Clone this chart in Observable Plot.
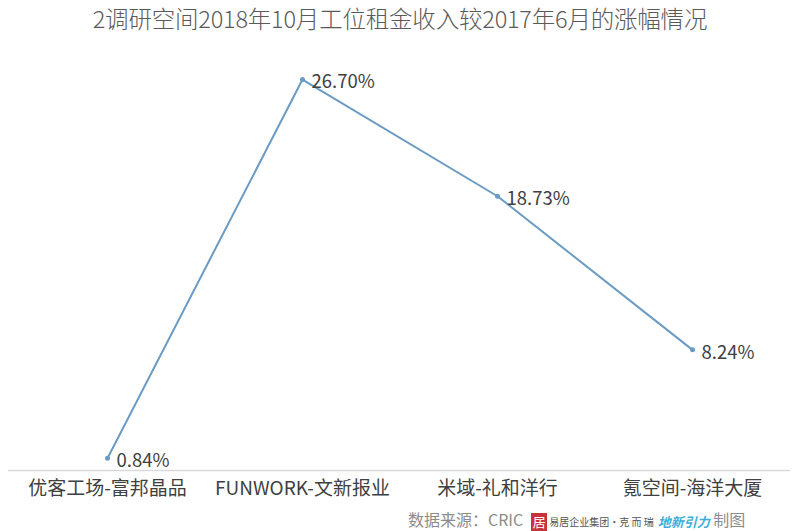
<!DOCTYPE html>
<html><head><meta charset="utf-8">
<script src="https://cdn.jsdelivr.net/npm/d3@7"></script>
<script src="https://cdn.jsdelivr.net/npm/@observablehq/plot@0.6"></script>
<style>
body{margin:0;background:#fff;font-family:"Noto Sans CJK SC","Noto Sans",sans-serif;}
#title{height:40px;line-height:36px;text-align:center;font-size:23.5px;color:#5a5a5a;font-weight:300;letter-spacing:-0.2px;}
#cap{height:21px;line-height:19px;font-size:16px;color:#8c8c8c;padding-left:408px;white-space:nowrap;}
.logo{display:inline-block;vertical-align:middle;}
</style></head><body>
<div id="title">2调研空间2018年10月工位租金收入较2017年6月的涨幅情况</div>
<div id="chart"></div>
<div id="cap">数据来源：CRIC<span class="logo" style="background:#c8323a;color:#fff;font-size:13px;line-height:18px;width:16px;text-align:center;margin-left:8px;">居</span><span class="logo" style="font-size:10px;color:#555;margin-left:2px;">易居企业集团·克 而 瑞</span><span class="logo" style="font-size:13px;color:#3ab0d8;font-style:italic;font-weight:bold;margin-left:4px;">地新引力</span> 制图</div>
<script>
const categories = ["优客工场-富邦晶品", "FUNWORK-文新报业", "米域-礼和洋行", "氪空间-海洋大厦"];
const growth = [0.84, 26.70, 18.73, 8.24];
const labels = ["0.84%", "26.70%", "18.73%", "8.24%"];

const data = categories.map((c, i) => ({cat: c, v: growth[i], label: labels[i]}));

const chart = Plot.plot({
  width: 800,
  height: 470,
  marginLeft: 8,
  marginRight: 10,
  marginTop: 20,
  marginBottom: 40,
  style: {fontFamily: '"Noto Sans CJK SC","Noto Sans",sans-serif', background: "#fff"},
  x: {type: "point", domain: categories, padding: 0.5, label: null},
  y: {domain: [0, 28], axis: null},
  marks: [
    Plot.ruleY([0], {stroke: "#d9d9d9", strokeWidth: 1.5}),
    Plot.axisX({tickSize: 0, tickPadding: 11, fontSize: 19, color: "#404040", label: null}),
    Plot.line(data, {x: "cat", y: "v", stroke: "#6a9bc4", strokeWidth: 2}),
    Plot.dot(data, {x: "cat", y: "v", r: 2.5, fill: "#6a9bc4"}),
    Plot.text(data, {x: "cat", y: "v", text: "label", textAnchor: "start", dx: 9, dy: 3, fontSize: 18.5, fill: "#404040"})
  ]
});
document.getElementById("chart").appendChild(chart);
</script>
</body></html>
